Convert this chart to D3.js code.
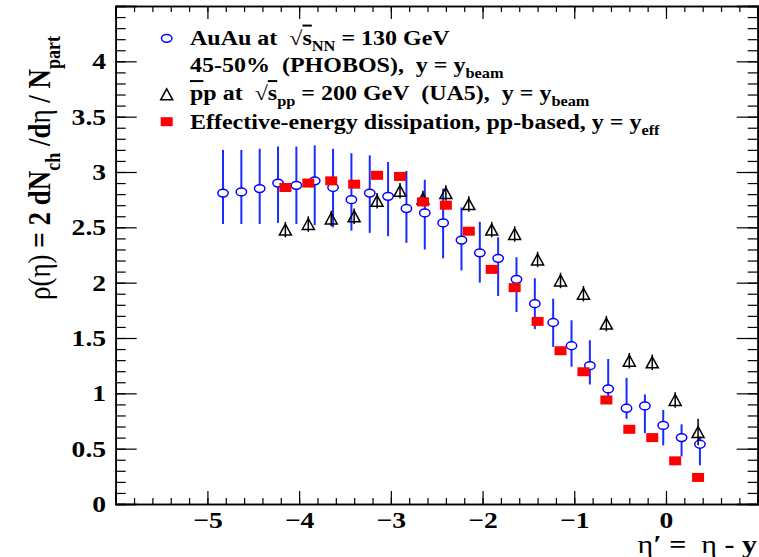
<!DOCTYPE html>
<html>
<head>
<meta charset="utf-8">
<script src="https://cdn.jsdelivr.net/npm/d3@7"></script>
<style>
  body { margin: 0; background: #fff; }
  svg { display: block; }
  text { font-family: "Liberation Serif", "DejaVu Serif", serif; font-weight: bold; fill: #000; white-space: pre; }
</style>
</head>
<body>
<svg id="chart" width="759" height="557"></svg>
<script>
// PHOBOS AuAu 130 GeV, 45-50% centrality, eta' = eta - y_beam
const auauEta = [-4.83, -4.63, -4.43, -4.23, -4.03, -3.83, -3.63, -3.43, -3.23, -3.03,
                 -2.83, -2.63, -2.43, -2.23, -2.03, -1.83, -1.63, -1.43, -1.23, -1.03,
                 -0.83, -0.63, -0.43, -0.23, -0.03, 0.17, 0.37];
const auauRho = [2.81, 2.82, 2.85, 2.90, 2.88, 2.92, 2.86, 2.75, 2.81, 2.78,
                 2.67, 2.63, 2.54, 2.385, 2.27, 2.22, 2.03, 1.81, 1.64, 1.43,
                 1.25, 1.04, 0.865, 0.886, 0.71, 0.60, 0.54];
const auauLow = [2.53, 2.53, 2.53, 2.54, 2.53, 2.52, 2.50, 2.47, 2.45, 2.42,
                 2.36, 2.30, 2.22, 2.11, 2.00, 1.88, 1.735, 1.58, 1.42, 1.24,
                 1.08, 0.95, 0.77, 0.64, 0.53, 0.43, 0.35];
const auauHigh = [3.20, 3.20, 3.21, 3.23, 3.23, 3.24, 3.21, 3.17, 3.15, 3.09,
                  3.01, 2.93, 2.85, 2.68, 2.55, 2.41, 2.23, 2.04, 1.855, 1.66,
                  1.48, 1.31, 1.14, 0.99, 0.85, 0.72, 0.61];

// UA5 pbar-p 200 GeV, eta' = eta - y_beam
const ua5Eta = [-4.15, -3.90, -3.65, -3.40, -3.15, -2.90, -2.65, -2.40, -2.15, -1.90,
                -1.65, -1.40, -1.15, -0.90, -0.65, -0.40, -0.15, 0.10, 0.35];
const ua5Rho = [2.48, 2.53, 2.58, 2.60, 2.74, 2.83, 2.76, 2.81, 2.71, 2.48,
                2.44, 2.21, 2.02, 1.90, 1.63, 1.295, 1.28, 0.94, 0.65];
const ua5Err = [0.07, 0.07, 0.07, 0.07, 0.07, 0.07, 0.07, 0.07, 0.07, 0.07,
                0.07, 0.07, 0.07, 0.07, 0.07, 0.07, 0.07, 0.07, 0.12];

// Effective-energy dissipation (pp-based), y = y_eff
const effEta = [-4.15, -3.90, -3.65, -3.40, -3.15, -2.90, -2.65, -2.40, -2.15, -1.90,
                -1.65, -1.40, -1.15, -0.90, -0.65, -0.40, -0.15, 0.10, 0.35];
const effRho = [2.86, 2.90, 2.92, 2.89, 2.97, 2.96, 2.73, 2.70, 2.465, 2.12,
                1.955, 1.65, 1.385, 1.195, 0.94, 0.675, 0.60, 0.39, 0.24];

const xMajorTicks = [-6, -5, -4, -3, -2, -1, 0, 1];
const xTickLabels = ["", "\u22125", "\u22124", "\u22123", "\u22122", "\u22121", "0", ""];
const yMajorTicks = [0, 0.5, 1, 1.5, 2, 2.5, 3, 3.5, 4, 4.5];
const yTickLabels = ["0", "0.5", "1", "1.5", "2", "2.5", "3", "3.5", "4", ""];

const svg = d3.select("#chart");
const frameL = 115.7, frameR = 757.7, frameT = 6, frameB = 504;
const SX = 1.2; // horizontal glyph stretch

const x = d3.scaleLinear().domain([-6, 1]).range([frameL, frameR]);
const y = d3.scaleLinear().domain([0, 4.5]).range([frameB, frameT]);

const xMinor = d3.range(-6, 1.0001, 0.2).map(v => +v.toFixed(2));
const yMinor = d3.range(0, 4.5001, 0.1).map(v => +v.toFixed(2));

function styleAxis(g) {
  g.selectAll(".domain").attr("stroke", "#000").attr("stroke-width", 1.6);
  g.selectAll(".tick line").attr("stroke", "#000").attr("stroke-width", 1.2);
}

// bottom axis: labels + inward ticks
const gxB = svg.append("g").attr("transform", `translate(0,${frameB})`)
  .call(d3.axisBottom(x).tickValues(xMajorTicks).tickSize(-13).tickPadding(8)
        .tickFormat((d, i) => xTickLabels[i]));
styleAxis(gxB);
gxB.selectAll(".tick text").attr("font-size", 23).attr("font-family", null)
  .attr("transform", `scale(${SX},1)`);
svg.append("g").attr("transform", `translate(0,${frameB})`)
  .call(d3.axisBottom(x).tickValues(xMinor).tickSize(-6).tickFormat(""))
  .call(styleAxis);

// top axis
svg.append("g").attr("transform", `translate(0,${frameT})`)
  .call(d3.axisTop(x).tickValues(xMajorTicks).tickSize(-13).tickFormat(""))
  .call(styleAxis);
svg.append("g").attr("transform", `translate(0,${frameT})`)
  .call(d3.axisTop(x).tickValues(xMinor).tickSize(-6).tickFormat(""))
  .call(styleAxis);

// left axis
const gyL = svg.append("g").attr("transform", `translate(${frameL},0)`)
  .call(d3.axisLeft(y).tickValues(yMajorTicks).tickSize(-21).tickPadding(8)
        .tickFormat((d, i) => yTickLabels[i]));
styleAxis(gyL);
gyL.selectAll(".tick text").attr("font-size", 23).attr("font-family", null)
  .attr("transform", `scale(${SX},1)`);
svg.append("g").attr("transform", `translate(${frameL},0)`)
  .call(d3.axisLeft(y).tickValues(yMinor).tickSize(-10).tickFormat(""))
  .call(styleAxis);

// right axis
svg.append("g").attr("transform", `translate(${frameR},0)`)
  .call(d3.axisRight(y).tickValues(yMajorTicks).tickSize(-21).tickFormat(""))
  .call(styleAxis);
svg.append("g").attr("transform", `translate(${frameR},0)`)
  .call(d3.axisRight(y).tickValues(yMinor).tickSize(-10).tickFormat(""))
  .call(styleAxis);

// ---- data ----
const blue = "#0000ff";
const cRx = 5.2, cRy = 3.9;
const auau = auauEta.map((e, i) => ({ e, v: auauRho[i], lo: auauLow[i], hi: auauHigh[i] }));
const gA = svg.append("g");
gA.selectAll("line.up").data(auau).join("line")
  .attr("x1", d => x(d.e)).attr("x2", d => x(d.e))
  .attr("y1", d => y(d.hi)).attr("y2", d => Math.max(y(d.hi), y(d.v) - cRy))
  .attr("stroke", "#1a2cff").attr("stroke-width", 2);
gA.selectAll("line.dn").data(auau).join("line")
  .attr("x1", d => x(d.e)).attr("x2", d => x(d.e))
  .attr("y1", d => y(d.v) + cRy).attr("y2", d => Math.max(y(d.lo), y(d.v) + cRy))
  .attr("stroke", "#1a2cff").attr("stroke-width", 2);
gA.selectAll("ellipse").data(auau).join("ellipse")
  .attr("cx", d => x(d.e)).attr("cy", d => y(d.v))
  .attr("rx", cRx).attr("ry", cRy)
  .attr("fill", "none").attr("stroke", blue).attr("stroke-width", 1.5);

// UA5 open triangles
const tW = 12, tH = 11;
const triPath = (cx, cy) => `M${cx},${cy - tH / 2}L${cx + tW / 2},${cy + tH / 2}L${cx - tW / 2},${cy + tH / 2}Z`;
const ua5 = ua5Eta.map((e, i) => ({ e, v: ua5Rho[i], err: ua5Err[i] }));
const gU = svg.append("g");
gU.selectAll("line").data(ua5).join("line")
  .attr("x1", d => x(d.e)).attr("x2", d => x(d.e))
  .attr("y1", d => y(d.v + d.err)).attr("y2", d => y(d.v - d.err))
  .attr("stroke", "#000").attr("stroke-width", 1.5);
gU.selectAll("path").data(ua5).join("path")
  .attr("d", d => triPath(x(d.e), y(d.v)))
  .attr("fill", "none").attr("stroke", "#000").attr("stroke-width", 1.5);

// Effective-energy squares
const sW = 12, sH = 9;
svg.append("g").selectAll("rect").data(effEta.map((e, i) => ({ e, v: effRho[i] }))).join("rect")
  .attr("x", d => x(d.e) - sW / 2).attr("y", d => y(d.v) - sH / 2)
  .attr("width", sW).attr("height", sH).attr("fill", "#ff0000");

// ---- legend ----
const leg = svg.append("g");
const mx = 166.7, tx = 190, fs = 20;
leg.append("ellipse").attr("cx", mx).attr("cy", 38.3).attr("rx", cRx).attr("ry", cRy)
  .attr("fill", "none").attr("stroke", blue).attr("stroke-width", 1.5);
leg.append("path").attr("d", triPath(mx, 94.3)).attr("fill", "none").attr("stroke", "#000").attr("stroke-width", 1.5);
leg.append("rect").attr("x", mx - sW / 2).attr("y", 121.7 - sH / 2).attr("width", sW).attr("height", sH).attr("fill", "#ff0000");

function richText(parent, px, py, size, parts, sx) {
  const g = parent.append("g").attr("transform", `translate(${px},${py}) scale(${sx},1)`);
  const t = g.append("text").attr("x", 0).attr("y", 0).attr("font-size", size);
  let shift = 0;
  parts.forEach(p => {
    const span = t.append("tspan").text(p.t);
    const want = p.sub ? size * 0.3 : p.sup ? -size * 0.35 : 0;
    if (want !== shift) { span.attr("dy", want - shift); shift = want; }
    if (p.sub || p.sup) span.attr("font-size", size * 0.68);
    if (p.over) span.style("text-decoration", "overline");
    if (p.normal) span.attr("font-weight", "normal");
  });
  return t;
}

richText(leg, tx, 44.5, fs, [
  { t: "AuAu at  " }, { t: "\u221A", normal: true }, { t: "s", over: true }, { t: "NN", sub: true },
  { t: " = 130 GeV" }], SX);
richText(leg, tx, 72, fs, [
  { t: "45-50%  (PHOBOS),  y = y" }, { t: "beam", sub: true }], SX);
richText(leg, tx, 100, fs, [
  { t: "p", over: true }, { t: "p at  " }, { t: "\u221A", normal: true }, { t: "s", over: true }, { t: "pp", sub: true },
  { t: " = 200 GeV  (UA5),  y = y" }, { t: "beam", sub: true }], SX);
richText(leg, tx, 128.5, fs, [
  { t: "Effective-energy dissipation, pp-based, y = y" }, { t: "eff", sub: true }], SX);

// ---- axis titles ----
richText(svg, 757, 553, 25, [
  { t: "\u03B7", normal: true }, { t: "\u2032 =  " }, { t: "\u03B7", normal: true }, { t: " - y" }], SX)
  .attr("text-anchor", "end");

const yTitle = svg.append("g").attr("transform", `translate(50,300) scale(${SX},1) rotate(-90)`);
const yt = yTitle.append("text").attr("font-size", 27);
yt.append("tspan").text("\u03C1(\u03B7)").attr("font-weight", "normal");
yt.append("tspan").text(" = 2 dN");
yt.append("tspan").text("ch").attr("font-size", 18).attr("dy", 8);
yt.append("tspan").text(" /d").attr("dy", -8);
yt.append("tspan").text("\u03B7").attr("font-weight", "normal");
yt.append("tspan").text(" / N");
yt.append("tspan").text("part").attr("font-size", 18).attr("dy", 8);
</script>
</body>
</html>
